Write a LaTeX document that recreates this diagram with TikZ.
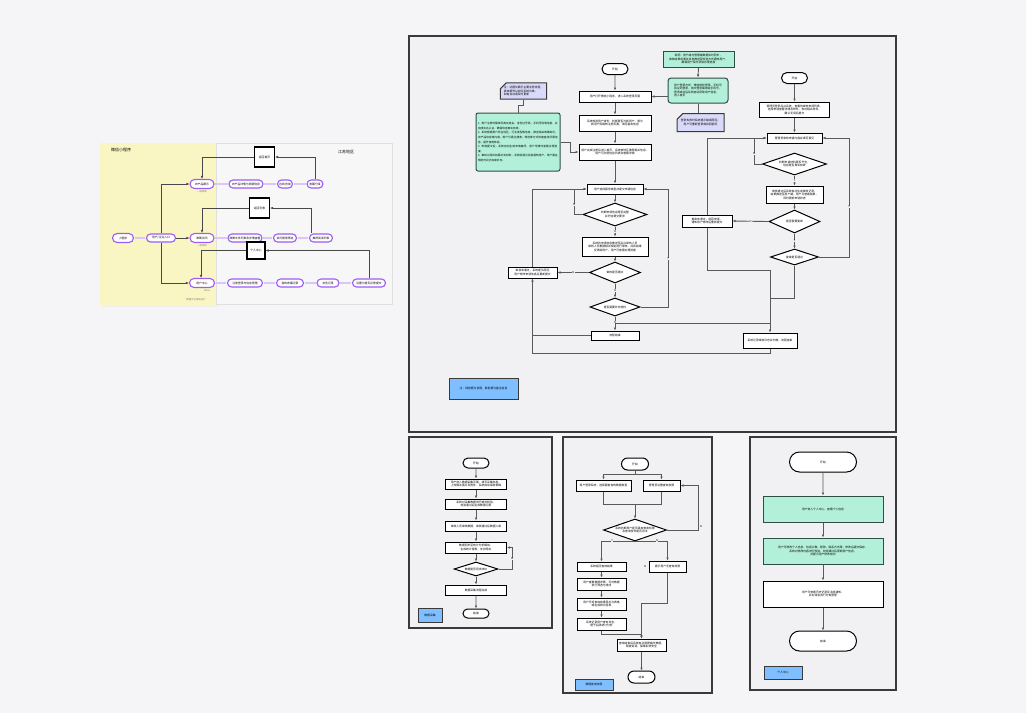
\documentclass[tikz,border=0pt]{standalone}
\usepackage{fontspec}
\newfontfamily\cjk{Noto Sans CJK SC}
\XeTeXlinebreaklocale "zh"
\XeTeXlinebreakskip=0pt plus 1pt
\usetikzlibrary{arrows.meta,shapes.geometric,shapes.misc}
\definecolor{pagebg}{HTML}{F5F5F7}
\definecolor{panelbg}{HTML}{F1F1F3}
\definecolor{panelline}{HTML}{3A3A3A}
\definecolor{mint}{HTML}{B3F0D9}
\definecolor{mintline}{HTML}{2F4F46}
\definecolor{lavender}{HTML}{D9D9FA}
\definecolor{legendblue}{HTML}{80BFFF}
\definecolor{paleyellow}{HTML}{FAF6C4}
\definecolor{pillviolet}{HTML}{9D5CF5}
\definecolor{pilllink}{HTML}{D9C7FB}
\definecolor{linkgray}{HTML}{5A5A5A}
\begin{document}
\begin{tikzpicture}[x=1pt,y=-1pt,>={Latex[length=3pt,width=2.6pt]},
  every node/.style={font=\cjk\fontsize{2.8}{3.5}\selectfont,inner sep=0.5pt},
  panel/.style={draw=panelline,line width=1.2pt,fill=panelbg},
  box/.style={draw=black,line width=1pt,fill=white,align=center},
  term/.style={rounded rectangle,draw=black,line width=1pt,fill=white},
  cond/.style={diamond,aspect=2.8,draw=black,line width=1pt,fill=white,align=center,inner sep=0pt},
  note/.style={draw=mintline,line width=1pt,fill=mint,align=left,rounded corners=2pt},
  memo/.style={chamfered rectangle,chamfered rectangle corners=north west,chamfered rectangle xsep=3pt,
    draw=panelline,line width=1pt,fill=lavender,align=left},
  legend/.style={draw=panelline,line width=1pt,fill=legendblue},
  link/.style={draw=linkgray,line width=0.9pt},
  tag/.style={font=\cjk\fontsize{2.6}{3}\selectfont,fill=panelbg,inner sep=0.4pt},
  menu/.style={rounded rectangle,draw=pillviolet,line width=1.1pt,fill=white,minimum height=8},
  menulink/.style={draw=pilllink,line width=2pt},
  sub/.style={font=\cjk\fontsize{2.4}{3}\selectfont,text=gray},
  jump/.style={draw=black,line width=1.1pt,fill=white,align=center},
  darklink/.style={draw=linkgray!80!black,line width=1pt}]
\useasboundingbox (0,0) rectangle (1026,713);
\fill[pagebg] (0,0) rectangle (1026,713);

% --- menu overview
\fill[black!6] (102,145) rectangle (218,307);
\fill[paleyellow] (100,143) rectangle (216,305);
\draw[draw=black!12,fill=white!97!black] (216,143) rectangle (392,304);
\node[font=\cjk\fontsize{4}{5}\selectfont] (ttl) at (121,150) {微信小程序};
\node[font=\cjk\fontsize{4}{5}\selectfont] (area) at (346,152) {江苏地区};
\node[sub] (foot) at (196,300) {数据平台系统设计};

\node[menu,minimum width=22,minimum height=9] (m0) at (123,238) {小程序};
\node[menu,minimum width=30] (m1) at (161,238) {用户/企业入口};
\node[menu,minimum width=25,minimum height=9] (c1) at (202,184) {农产品展示};
\node[menu,minimum width=25,minimum height=9] (c2) at (202,238) {政策资讯};
\node[menu,minimum width=26,minimum height=9] (c3) at (202,283) {用户中心};
\node[sub] at (202,192) {一级菜单};
\node[sub] at (202,246) {一级菜单};
\node[sub] at (207,291) {None};

\node[menu,minimum width=35] (r11) at (246,184) {农产品详情与溯源信息};
\node[menu,minimum width=16] (r12) at (285,184) {在线咨询};
\node[menu,minimum width=17] (r13) at (315,184) {收藏分享};
\node[menu,minimum width=35] (r21) at (245,238) {政策文件列表及详情查看};
\node[menu,minimum width=24] (r22) at (285,238) {资讯搜索筛选};
\node[menu,minimum width=24] (r23) at (321,238) {推荐阅读列表};
\node[menu,minimum width=36] (r31) at (245,283) {注册登录与信息管理};
\node[menu,minimum width=28] (r32) at (290,283) {我的收藏记录};
\node[menu,minimum width=23] (r33) at (328,283) {浏览记录};
\node[menu,minimum width=34] (r34) at (369,283) {设置与意见反馈提交};

\node[jump,minimum width=20,minimum height=20] (k1) at (264.5,157) {返回首页};
\node[jump,minimum width=20,minimum height=20] (k2) at (259.5,208) {返回列表};
\node[jump,minimum width=18,minimum height=17] (k3) at (256,250.5) {个人中心};

\foreach \a/\b in {m0/m1,c1/r11,r11/r12,r12/r13,c2/r21,r21/r22,r22/r23,c3/r31,r31/r32,r32/r33,r33/r34}
  \draw[menulink,shorten <=0.5pt,shorten >=0.5pt] (\a.east) -- (\b.west);
\draw[darklink,->] (m1.north) |- (c1.west);
\draw[darklink,->] (m1.east) -- (c2.west);
\draw[darklink,->] (m1.south) |- (c3.west);
\draw[darklink,->] (r13.north) |- (k1.east);
\draw[darklink,->] (k1.west) -| (c1.north);
\draw[darklink,->] ([xshift=-10pt]r23.north) |- (k2.east);
\draw[darklink,->] (k2.west) -| (c2.north);
\draw[darklink,->] (r34.north) |- (k3.east);
\draw[darklink,->] (k3.west) -| ([xshift=-1pt]c3.north);

% --- main flow
\draw[panel] (409,36) rectangle (896,432);

\node[term,minimum width=27,minimum height=11] (s1) at (615,69) {开始};
\node[box,minimum width=72,minimum height=11] (a1) at (615,96.5) {用户打开微信小程序，进入系统登录页面};
\node[box,minimum width=72,minimum height=16] (a2) at (615,123) {系统校验用户身份，判断是否为新用户，若为\\新用户则跳转注册页面，填写基本信息};
\node[box,minimum width=72,minimum height=16] (a3) at (615,152) {用户完成注册后进入首页，系统按地区推荐相关信息，\\用户可浏览信息列表并查看详情};
\node[box,minimum width=56,minimum height=10] (a4) at (615,189) {用户选择服务类型并提交申请信息};
\node[cond,minimum width=64,minimum height=23] (q1) at (615,214.5) {判断申请信息是否完整\\并符合提交要求};
\node[box,minimum width=66,minimum height=19] (a5) at (615,246.5) {系统将申请信息推送至后台审核人员\\审核人员根据相关规定进行审核，并将结果\\反馈给用户，用户可查看办理进度};
\node[cond,minimum width=51,minimum height=21] (q2) at (615,272.5) {审核是否通过};
\node[cond,minimum width=50,minimum height=18] (q3) at (615,307) {是否需要补充材料};
\node[box,minimum width=48,minimum height=9] (a6) at (615,335.5) {流程结束};
\node[box,minimum width=49,minimum height=11] (a7) at (532.5,272.5) {审核未通过，系统提示原因\\用户修改申请信息后重新提交};

\foreach \a/\b in {s1/a1,a1/a2,a2/a3,a3/a4,a4/q1,a5/q2}
  \draw[link,->] (\a) -- (\b);
\draw[link,->] (q1) -- node[tag]{N} (a5);
\draw[link,->] (q2) -- node[tag]{N} (q3);
\draw[link,->] (q3) -- node[tag,pos=0.45]{N} (a6);
\draw[link,->] (q1.west) -- (574,214.5) |- (a4.west);
\node[tag] at (574,205) {N};
\draw[link,->] (q2.west) -- node[tag]{N} (a7.east);
\draw[link,->] (a7.north) |- (a4.west);
\draw[link,->] (q3.east) -- (668,307) |- (a4.east);
\node[tag] at (668,259) {Y};

\node[term,minimum width=27,minimum height=11] (s2) at (794.5,78) {开始};
\node[box,minimum width=70,minimum height=15] (b1) at (794.5,109.5) {管理员登录后台系统，查看待审核申请列表，\\选择申请查看详情及附件，核对相关材料，\\确认无误后提交};
\node[box,minimum width=55,minimum height=10] (b2) at (794.5,138) {管理员审核申请内容并填写意见};
\node[cond,minimum width=64,minimum height=22] (p1) at (794.5,164) {判断申请材料是否齐全，\\信息是否真实有效};
\node[box,minimum width=57,minimum height=17] (b3) at (794.5,194.5) {审核通过后系统自动生成审核记录，\\结果推送至用户端，用户可查看结果，\\同时更新申请状态};
\node[cond,minimum width=51,minimum height=23] (p2) at (794.5,221.5) {是否需要复审};
\node[cond,minimum width=48,minimum height=16] (p3) at (794.5,257) {复审是否通过};
\node[box,minimum width=50,minimum height=12] (b4) at (707,221) {复审未通过，退回申请，\\通知用户修改后重新提交};
\node[box,minimum width=54,minimum height=15] (b5) at (770,340.5) {系统记录审核日志并归档，流程结束};

\foreach \a/\b in {s2/b1,b1/b2,b3/p2}
  \draw[link,->] (\a) -- (\b);
\draw[link,->] (p1) -- node[tag]{Y} (b3);
\draw[link,->] (p2) -- node[tag]{Y} (p3);
\draw[link,->] (p1.west) -- (754,164) |- (b2.west);
\node[tag] at (754,154) {N};
\draw[link,->] (p2.west) -- node[tag]{N} (b4.east);
\draw[link,->] (b4.north) |- (b2.west);
\draw[link,->] (p3.east) -- (849,257) |- (b2.east);
\node[tag] at (849,207) {Y};
\draw[link,->] (b4.south) -- (707,270) -| (b5.north);
\draw[link] (p3.south) -- (794.5,298) -- (770,298);
\coordinate (j1) at (615,323);
\draw[link] (j1) -- (770,323);
\draw[link,->] (b5.south) -- (770,353) -| (a7.south);
\draw[link] (a6.west) -- (a6.west -| a7.south);

% --- notes
\node[note,minimum width=84,minimum height=58,text width=80,
  font=\cjk\fontsize{2.7}{4.6}\selectfont] (n1) at (518,142)
  {1. 用户注册时需填写真实姓名、身份证号码、手机号码等信息，并完成实名认证，确保信息真实有效。\par
   2. 系统根据用户所在地区、行业类型等信息，推送相关政策资讯、农产品信息等内容，用户可通过搜索、筛选等方式快速查找所需信息，提升使用体验。\par
   3. 申请提交后，系统自动生成申请编号，用户可随时查看办理进度。\par
   4. 审核过程中如需补充材料，系统将通过消息通知用户，用户需在规定时间内完成补充。};
\node[memo,minimum width=43,minimum height=16] (n2) at (523.5,91) {注：此图仅展示主要业务流程，\\具体细节以实际系统为准，\\如有变动请及时更新};
\node[note,rounded corners=0pt,align=center,minimum width=71,minimum height=16] (n3) at (698.5,59) {说明：用户端与管理端数据实时同步，\\审核结果将通过消息推送及短信方式通知用户，\\确保用户及时获取办理进度};
\node[note,rounded corners=3pt,minimum width=60,minimum height=25] (n4) at (698,90.5) {用户登录方式：微信授权登录、手机号\\验证码登录，首次登录需绑定手机号，\\登录成功后系统自动获取用户信息，\\进入首页};
\node[memo,minimum width=47,minimum height=18,align=center] (n5) at (700.5,122.5) {登录失败时系统提示错误原因，\\用户可重新登录或找回密码};
\node[legend,minimum width=69,minimum height=21] (g1) at (483.5,388.5) {注：绿色框为说明，紫色框为备注信息};

\draw[link] (n1.north) -- ++(0,-7) -| (n2.south);
\draw[link,->] (n1.east) -- ++(10,0) |- (a3.west);
\draw[link,->] (n3.south) -- (n4.north);
\draw[link,->] (n4.west |- a1.east) -- (a1.east);
\draw[link] (n4.south) -- (n4.south |- n5.north);

% --- data collection
\draw[panel] (409,437) rectangle (552,628);
\node[term,minimum width=27,minimum height=10] (e0) at (476,463) {开始};
\node[box,minimum width=61,minimum height=10] (e1) at (476,484) {用户进入数据采集页面，填写采集信息，\\上传相关图片及附件，系统自动保存草稿};
\node[box,minimum width=61,minimum height=10] (e2) at (476,504) {系统对采集数据进行格式校验，\\校验通过后生成数据记录};
\node[box,minimum width=61,minimum height=10] (e3) at (476,526) {审核人员审核数据，审核通过后数据入库};
\node[box,minimum width=61,minimum height=11] (e4) at (476,547.5) {数据同步至统计分析模块，\\生成统计报表，支持导出};
\node[cond,minimum width=44,minimum height=14] (e5) at (476,569) {数据是否同步成功};
\node[box,minimum width=61,minimum height=10] (e6) at (476,590) {数据采集流程完成};
\node[term,minimum width=27,minimum height=9] (e7) at (476,613.5) {结束};
\node[legend,minimum width=24,minimum height=14] (g2) at (430,615) {数据采集};
\foreach \a/\b in {e0/e1,e1/e2,e2/e3,e3/e4,e4/e5,e5/e6,e6/e7}
  \draw[link,->] (\a) -- (\b);
\draw[link,->] (e5.east) -- (512,569) |- (e4.east);
\node[tag] at (512,559) {N};

% --- data query
\draw[panel] (563,437) rectangle (712,693);
\node[term,minimum width=28,minimum height=12] (t0) at (635,464) {开始};
\node[box,minimum width=55,minimum height=11] (u1) at (603.5,485.5) {用户登录系统，选择需查询的数据类型};
\node[box,minimum width=37,minimum height=11] (u2) at (661.5,485.5) {管理员设置查询权限};
\node[cond,minimum width=63,minimum height=22] (w0) at (635,530) {系统判断用户是否具有查询权限\\及查询条件是否合法};
\node[box,minimum width=49,minimum height=9] (v1) at (601.5,566.5) {系统返回查询结果};
\node[box,minimum width=49,minimum height=12] (v2) at (601.5,584) {用户查看数据详情，可对数据\\进行筛选与排序};
\node[box,minimum width=49,minimum height=12] (v3) at (601.5,604) {用户可将查询结果导出为表格\\或生成统计图表};
\node[box,minimum width=49,minimum height=12] (v4) at (601.5,624) {系统记录用户查询日志，\\便于后续统计分析};
\node[box,minimum width=37,minimum height=11] (x1) at (667.5,566.5) {提示用户无查询权限};
\node[box,minimum width=49,minimum height=12] (y0) at (641.5,645) {查询结束后系统自动清理临时数据，\\释放资源，保障系统安全};
\node[term,minimum width=28,minimum height=12] (z0) at (641.5,677) {结束};
\node[legend,minimum width=38,minimum height=11] (g3) at (594,684.5) {数据查询流程};
\coordinate (sp) at (635,474);
\coordinate (mg) at (635,504);
\draw[link] (t0) -- (sp);
\draw[link,->] (sp) -| (u1.north);
\draw[link,->] (sp) -| (u2.north);
\draw[link] (u1.south) |- (mg);
\draw[link] (u2.south) |- (mg);
\draw[link,->] (mg) -- (w0.north);
\draw[link,->] (w0.east) -- (698,530) |- (u2.east);
\node[tag] at (701,527) {N};
\draw[link,->] (w0.south) -| (v1.north);
\draw[link,->] (w0.south) -| (x1.north);
\node[tag] at (612,541) {Y};
\node[tag] at (657,541) {N};
\node[tag] at (645,566.5) {N};
\foreach \a/\b in {v1/v2,v2/v3,v3/v4,y0/z0}
  \draw[link,->] (\a) -- (\b);
\draw[link,->] (v4.south) -- ++(0,4) -| (y0.north);
\draw[link,->] (x1.south) -- ++(0,31) -| (y0.north);

% --- personal center
\draw[panel] (750,437) rectangle (896,690);
\node[term,minimum width=68,minimum height=20] (f0) at (823,462) {开始};
\node[box,fill=mint,draw=mintline,minimum width=120,minimum height=26] (f1) at (823,509) {用户进入个人中心，查看个人信息};
\node[box,fill=mint,draw=mintline,minimum width=120,minimum height=26] (f2) at (823,551) {用户可修改个人信息，包括头像、昵称、联系方式等，修改后提交保存，\\系统对修改内容进行校验，校验通过后更新用户信息，\\并提示用户修改成功};
\node[box,minimum width=120,minimum height=26] (f3) at (823,594) {用户可查看历史记录及消息通知，\\并对消息进行分类管理};
\node[term,minimum width=68,minimum height=20] (f4) at (823,641) {结束};
\node[legend,minimum width=38,minimum height=13] (g4) at (783,672.5) {个人中心};
\foreach \a/\b in {f0/f1,f1/f2,f2/f3,f3/f4}
  \draw[link,->] (\a) -- (\b);
\end{tikzpicture}
\end{document}
